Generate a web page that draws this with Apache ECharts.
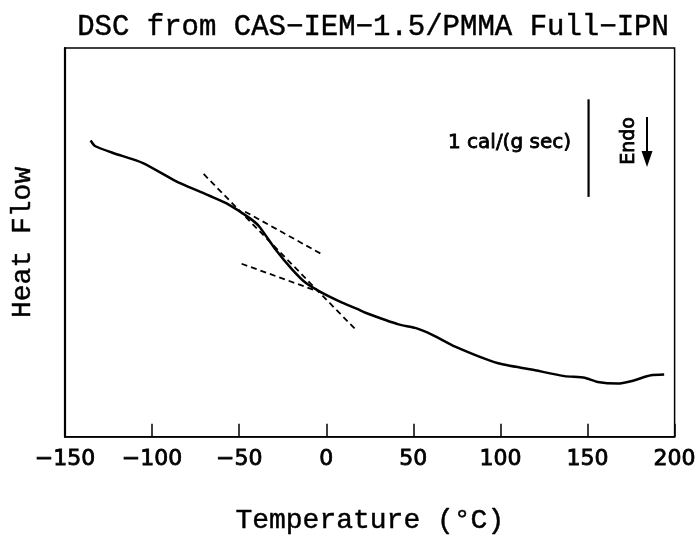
<!DOCTYPE html>
<html>
<head>
<meta charset="utf-8">
<script src="https://cdn.jsdelivr.net/npm/echarts@6/dist/echarts.min.js"></script>
<style>
  html, body { margin: 0; padding: 0; background: #fff; }
  #chart { width: 699px; height: 540px; }
</style>
</head>
<body>
<div id="chart"></div>
<script>
// DSC trace (temperature in °C, heat flow in arbitrary units 0..100)
const temps = [-135.3, -132.8, -122.4, -105.2, -86.1, -67.1, -57.5, -44.2, -38.5, -29.0,
  -19.5, -11.8, -2.3, 9.1, 18.7, 22.5, 41.5, 51.1, 60.6, 74.0,
  98.7, 117.8, 136.8, 148.3, 155.9, 167.3, 174.9, 186.4, 194.0];
const heatFlow = [76.2, 74.8, 73.0, 70.4, 65.7, 62.0, 60.1, 56.3, 54.1, 48.1,
  43.0, 39.6, 37.0, 34.5, 32.7, 31.9, 28.9, 28.0, 26.3, 23.2,
  18.9, 17.3, 15.6, 15.2, 14.1, 13.7, 14.3, 15.8, 16.0];

// tangent construction lines (dashed)
const steepTangent = [[-70.4, 67.6], [17.7, 27.2]];
const upperTangent = [[-46.6, 57.9], [-2.3, 46.9]];
const lowerTangent = [[-48.6, 44.5], [-2.3, 37.0]];

// 1 cal/(g sec) scale bar
const scaleBar = [[150.6, 86.8], [150.6, 61.7]];

const xTicks = { min: -150, max: 200, interval: 50 };

const chart = echarts.init(document.getElementById('chart'));

const curveData = temps.map((t, i) => [t, heatFlow[i]]);

// the serif labels look a bit heavier than plain Courier, thicken them a touch
const serifText = {
  fontFamily: 'Liberation Mono',
  fontSize: 28,
  fontWeight: 'normal',
  color: '#000',
  textBorderColor: '#000',
  textBorderWidth: 0.45,
};

const dashed = (data) => ({
  type: 'line',
  data: data,
  symbol: 'none',
  silent: true,
  lineStyle: { color: '#000', width: 1.8, type: [6, 4] },
});

const option = {
  animation: false,
  backgroundColor: '#fff',
  title: {
    text: 'DSC from CAS\u2212IEM\u22121.5/PMMA Full\u2212IPN',
    left: 368,
    top: 8,
    textAlign: 'center',
    textStyle: { ...serifText, fontSize: 29 },
  },
  grid: { left: 65, right: 22, top: 48, bottom: 102.5, show: true, borderColor: '#000', borderWidth: 1.5 },
  xAxis: {
    type: 'value',
    min: xTicks.min,
    max: xTicks.max,
    interval: xTicks.interval,
    name: 'Temperature (\u00B0C)',
    nameLocation: 'middle',
    nameGap: 70,
    nameTextStyle: serifText,
    axisLine: { show: true, onZero: false, lineStyle: { color: '#000', width: 1.5 } },
    axisTick: { show: true, inside: true, length: 13, lineStyle: { color: '#000', width: 1.5 } },
    axisLabel: {
      margin: 12,
      fontFamily: 'DejaVu Sans',
      fontSize: 22,
      color: '#000',
      textBorderColor: '#000',
      textBorderWidth: 0.8,
      formatter: (v) => String(v).replace('-', '\u2212'),
    },
    splitLine: { show: false },
  },
  yAxis: {
    type: 'value',
    min: 0,
    max: 100,
    name: 'Heat Flow',
    nameLocation: 'middle',
    nameGap: 28,
    nameTextStyle: serifText,
    axisLine: { show: true, onZero: false, lineStyle: { color: '#000', width: 2.2 } },
    axisTick: { show: false },
    axisLabel: { show: false },
    splitLine: { show: false },
  },
  series: [
    {
      type: 'line',
      data: curveData,
      symbol: 'none',
      smooth: 0.2,
      lineStyle: { color: '#000', width: 2.5 },
    },
    dashed(steepTangent),
    dashed(upperTangent),
    dashed(lowerTangent),
    {
      type: 'line',
      data: scaleBar,
      symbol: 'none',
      lineStyle: { color: '#000', width: 2.2 },
    },
  ],
  graphic: [
    {
      type: 'text',
      x: 571,
      y: 143,
      style: {
        text: '1 cal/(g sec)',
        fontFamily: 'DejaVu Sans',
        fontSize: 20,
        fill: '#000',
        stroke: '#000',
        lineWidth: 0.8,
        align: 'right',
        verticalAlign: 'middle',
      },
    },
    {
      type: 'text',
      x: 629,
      y: 141,
      rotation: Math.PI / 2,
      style: {
        text: 'Endo',
        fontFamily: 'DejaVu Sans',
        fontSize: 19,
        fill: '#000',
        stroke: '#000',
        lineWidth: 0.8,
        align: 'center',
        verticalAlign: 'middle',
      },
    },
    {
      type: 'line',
      shape: { x1: 647, y1: 117, x2: 647, y2: 156 },
      style: { stroke: '#000', lineWidth: 2 },
    },
    {
      type: 'polygon',
      shape: { points: [[641.5, 151], [652.5, 151], [647, 167]] },
      style: { fill: '#000' },
    },
  ],
};

chart.setOption(option);
</script>
</body>
</html>
